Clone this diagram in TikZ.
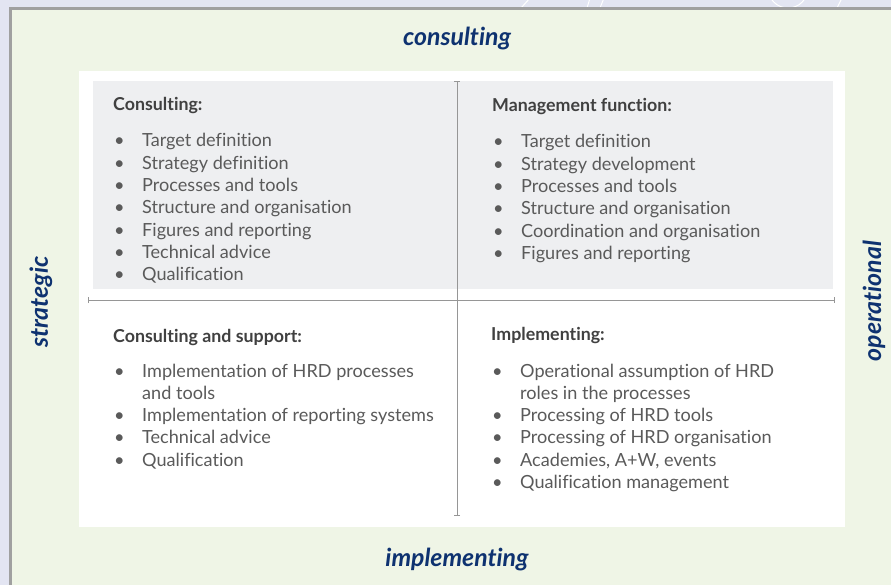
\documentclass[tikz,border=0pt]{standalone}
\usepackage{fontspec}
\setmainfont{Lato}[Ligatures=NoCommon]
\usepackage{xcolor}
\usetikzlibrary{arrows.meta}

\definecolor{lavender}{RGB}{227,229,242}
\definecolor{panelgreen}{RGB}{239,245,230}
\definecolor{boxgray}{RGB}{238,239,241}
\definecolor{framegray}{RGB}{160,160,160}
\definecolor{axisgray}{RGB}{150,150,150}
\definecolor{navy}{RGB}{14,50,112}
\definecolor{itemgray}{RGB}{90,90,90}
\definecolor{headgray}{RGB}{64,64,64}

\newcommand{\bul}{\makebox[28pt][l]{\textbullet}}
\newcommand{\nobul}{\makebox[28pt][l]{}}

\tikzset{
  axislabel/.style={font=\fontsize{24.8}{30}\selectfont\bfseries\itshape, text=navy, inner sep=0pt},
  heading/.style={font=\fontsize{17.8}{21}\selectfont\bfseries, text=headgray, anchor=base west, inner sep=0pt},
  itemlist/.style={font=\fontsize{18.1}{22.3}\selectfont, text=itemgray, anchor=base west, inner sep=0pt},
  axis/.style={draw=axisgray, line width=0.8pt, {Bar[width=6pt]}-{Bar[width=6pt]}}
}

\begin{document}
\begin{tikzpicture}[x=1pt, y=-1pt]
            \useasboundingbox (0,0) rectangle (891,585);

            % background and panels
            \fill[lavender] (0,0) rectangle (891,585);
            \begin{scope}
                \clip (0,0) rectangle (891,8);
                \draw[white, line width=1pt] (521,8) -- (530,-2);
                \draw[white, line width=1pt] (587,8) -- (590,-2);
                \draw[white, line width=1pt] (600,8) -- (604,-2);
                \draw[white, line width=1pt] (683,8) arc (190:160:40);
                \draw[white, line width=1pt] (742,8) arc (-10:20:40);
                \draw[white, line width=1pt] (788,-12) circle (20);
                \draw[white, line width=1pt] (837,8) -- (842,-2);
            \end{scope}
            \fill[panelgreen] (10,8) rectangle (891,585);
            \draw[framegray, line width=2.5pt] (10.5,585) -- (10.5,8.5) -- (891,8.5);
            \fill[white] (79,71) rectangle (845,527);
            \fill[boxgray] (93,81) rectangle (833,289);

            % axes
            \coordinate (left) at (88,300);
            \coordinate (right) at (835,300);
            \coordinate (top) at (457,81);
            \coordinate (bottom) at (457,516);
            \draw[axis] (left) -- (right);
            \draw[axis] (top) -- (bottom);

            % axis labels
            \node[axislabel] (consulting) at (457,39) {consulting};
            \node[axislabel] (implementing) at (457,560) {implementing};
            \node[axislabel, rotate=90] (strategic) at (41,302) {strategic};
            \node[axislabel, rotate=90] (operational) at (874,301) {operational};

            % quadrant headings
            \node[heading] (consultHead) at (113,110.5) {Consulting:};
            \node[heading] (manageHead) at (492,111.5) {Management function:};
            \node[heading] (supportHead) at (113,342) {Consulting and support:};
            \node[heading] (implHead) at (491,340) {Implementing:};

            % quadrant lists
            \node[itemlist] (consultList) at (114,147) {\begin{tabular}[t]{@{}l@{}}
                \bul Target definition\\
                \bul Strategy definition\\
                \bul Processes and tools\\
                \bul Structure and organisation\\
                \bul Figures and reporting\\
                \bul Technical advice\\
                \bul Qualification
            \end{tabular}};
            \node[itemlist] (manageList) at (493,148) {\begin{tabular}[t]{@{}l@{}}
                \bul Target definition\\
                \bul Strategy development\\
                \bul Processes and tools\\
                \bul Structure and organisation\\
                \bul Coordination and organisation\\
                \bul Figures and reporting
            \end{tabular}};
            \node[itemlist] (supportList) at (114,377) {\begin{tabular}[t]{@{}l@{}}
                \bul Implementation of HRD processes\\
                \nobul and tools\\
                \bul Implementation of reporting systems\\
                \bul Technical advice\\
                \bul Qualification
            \end{tabular}};
            \node[itemlist] (implList) at (492,377) {\begin{tabular}[t]{@{}l@{}}
                \bul Operational assumption of HRD\\
                \nobul roles in the processes\\
                \bul Processing of HRD tools\\
                \bul Processing of HRD organisation\\
                \bul Academies, A+W, events\\
                \bul Qualification management
            \end{tabular}};
\end{tikzpicture}
\end{document}
